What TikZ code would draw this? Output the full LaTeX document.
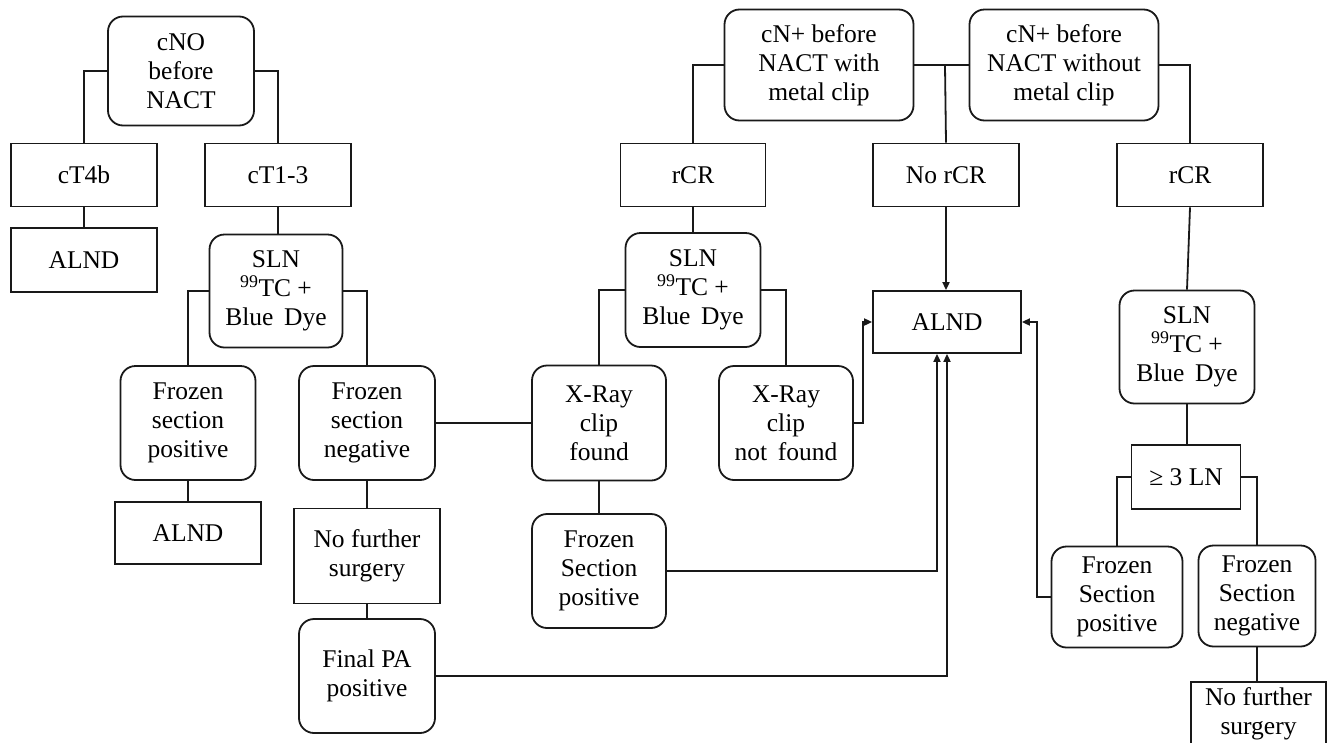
\documentclass[tikz,border=0pt]{standalone}
\usepackage{fontspec}
\setmainfont{Liberation Serif}
\usetikzlibrary{arrows.meta}
\begin{document}
\begin{tikzpicture}[x=1pt,y=-1pt,
  every node/.style={font=\fontsize{25.5}{29}\selectfont, align=center, inner sep=0pt, line width=1.8pt, draw=black!90},
  rbox/.style={draw, rounded corners=15pt},
  sbox/.style={draw},
  conn/.style={line width=1.8pt, draw=black!90},
  arr/.style={conn, -{Triangle[length=8pt,width=7pt]}}]
\useasboundingbox (0,0) rectangle (1327,742);
\fill[white] (0,0) rectangle (1327,742);
% left tree
\node[rbox, minimum width=146pt, minimum height=109pt] (cno) at (181,71) {cNO\\before\\NACT};
\node[sbox, minimum width=146pt, minimum height=63pt] (ct4b) at (84,175) {cT4b};
\node[sbox, minimum width=146pt, minimum height=63pt] (ct13) at (278,175) {cT1-3};
\node[sbox, minimum width=146pt, minimum height=64pt] (alnd1) at (84,260) {ALND};
\node[rbox, minimum width=133pt, minimum height=113pt] (sln1) at (276,291) {SLN\\\textsuperscript{99}TC +\\Blue\, Dye};
\node[rbox, minimum width=135pt, minimum height=114pt] (fsp1) at (188,423) {Frozen\\section\\positive};
\node[rbox, minimum width=136pt, minimum height=114pt] (fsn1) at (367,423) {Frozen\\section\\negative};
\node[sbox, minimum width=146pt, minimum height=62pt] (alnd2) at (188,533) {ALND};
\node[sbox, minimum width=146pt, minimum height=95pt] (nfs1) at (367,556) {No further\\surgery};
\node[rbox, minimum width=136pt, minimum height=114pt] (fpa) at (367,676) {Final PA\\positive};
% middle tree
\node[rbox, minimum width=189pt, minimum height=111pt] (cnw) at (819,65) {cN+ before\\NACT with\\metal clip};
\node[rbox, minimum width=189pt, minimum height=111pt] (cnwo) at (1064,65) {cN+ before\\NACT without\\metal clip};
\node[sbox, minimum width=145pt, minimum height=63pt] (rcr1) at (693,175) {rCR};
\node[sbox, minimum width=146pt, minimum height=63pt] (norcr) at (946,175) {No rCR};
\node[sbox, minimum width=146pt, minimum height=63pt] (rcr2) at (1190,175) {rCR};
\node[rbox, minimum width=135pt, minimum height=114pt] (sln2) at (693,290) {SLN\\\textsuperscript{99}TC +\\Blue\, Dye};
\node[rbox, minimum width=134pt, minimum height=115pt] (xf) at (599,423) {X-Ray\\clip\\found};
\node[rbox, minimum width=134pt, minimum height=114pt] (xnf) at (786,423) {X-Ray\\clip\\not\, found};
\node[rbox, minimum width=134pt, minimum height=114pt] (fsp2) at (599,571) {Frozen\\Section\\positive};
\node[sbox, minimum width=148pt, minimum height=62pt] (alnd3) at (947,322) {ALND};
% right tree
\node[rbox, minimum width=135pt, minimum height=113pt] (sln3) at (1187,347) {SLN\\\textsuperscript{99}TC +\\Blue\, Dye};
\node[sbox, minimum width=109pt, minimum height=64pt] (ln3) at (1186,477) {≥ 3 LN};
\node[rbox, minimum width=131pt, minimum height=101pt] (fsp3) at (1117,597) {Frozen\\Section\\positive};
\node[rbox, minimum width=117pt, minimum height=101pt] (fsn3) at (1257,596) {Frozen\\Section\\negative};
\node[sbox, minimum width=135pt, minimum height=63pt] (nfs2) at (1258.5,713.5) {No further\\surgery};
% coordinates
\coordinate (br) at (945,66);
\coordinate (xk) at (863,423);
\coordinate (fk) at (1037,597);
% connectors left
\draw[conn] (cno.west) -| (ct4b.north);
\draw[conn] (cno.east) -| (ct13.north);
\draw[conn] (ct4b.south) -- (alnd1.north);
\draw[conn] (ct13.south) -- (ct13.south |- sln1.north);
\draw[conn] (sln1.west) -| (fsp1.north);
\draw[conn] (sln1.east) -| (fsn1.north);
\draw[conn] (fsp1.south) -- (alnd2.north);
\draw[conn] (fsn1.south) -- (nfs1.north);
\draw[conn] (nfs1.south) -- (fpa.north);
\draw[conn] (fsn1.east) -- (xf.west);
% connectors middle
\draw[conn] (cnw.west) -| (rcr1.north);
\draw[conn] (cnw.east) -- (cnwo.west);
\draw[conn] (br) -- (norcr.north);
\draw[conn] (cnwo.east) -| (rcr2.north);
\draw[conn] (rcr1.south) -- (rcr1.south |- sln2.north);
\draw[arr] (norcr.south) -- (norcr.south |- alnd3.north);
\draw[conn] (rcr2.south) -- (sln3.north);
\draw[conn] (sln2.west) -| (xf.north);
\draw[conn] (sln2.east) -| (xnf.north);
\draw[conn] (xf.south) -- (fsp2.north);
\draw[arr] (xnf.east) -- (xk) |- (alnd3.west);
\draw[arr] (fsp2.east) -| ([xshift=-10pt]alnd3.south);
\draw[arr] (fpa.east) -| (alnd3.south);
% connectors right
\draw[conn] (sln3.south) -- (sln3.south |- ln3.north);
\draw[conn] (ln3.west) -| (fsp3.north);
\draw[conn] (ln3.east) -| (fsn3.north);
\draw[arr] (fsp3.west) -- (fk) |- (alnd3.east);
\draw[conn] (fsn3.south) -- (fsn3.south |- nfs2.north);
\end{tikzpicture}
\end{document}
